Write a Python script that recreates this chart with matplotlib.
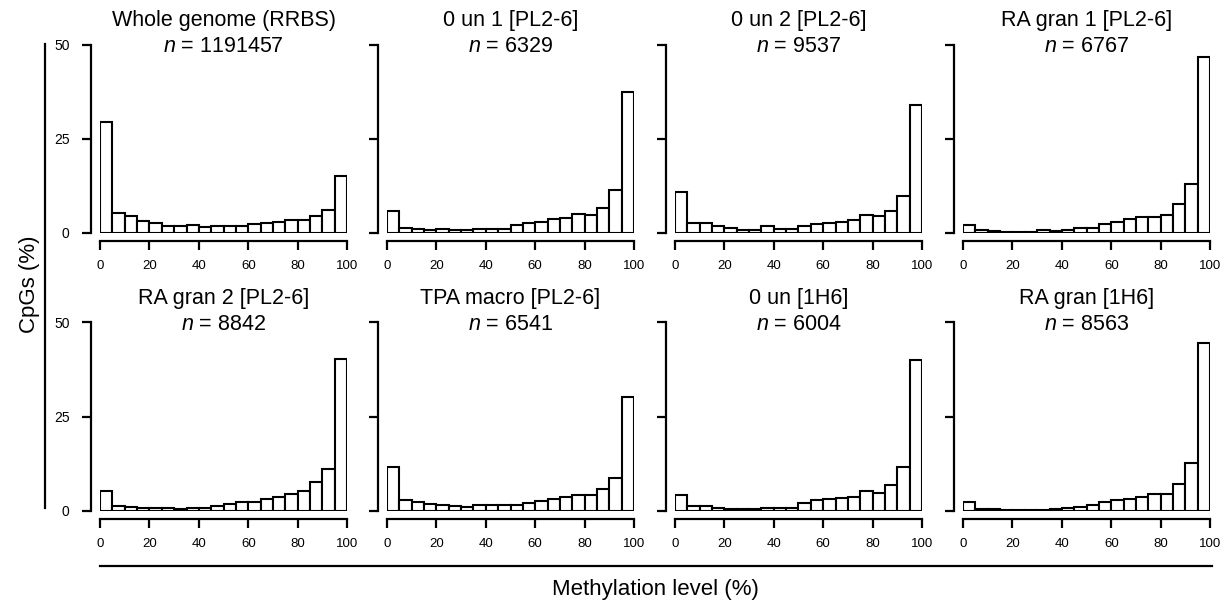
import numpy as np
import matplotlib
matplotlib.use("Agg")
import matplotlib.pyplot as plt
from matplotlib.lines import Line2D

plt.rcParams["font.family"] = ["Liberation Sans", "DejaVu Sans"]
plt.rcParams["mathtext.fontset"] = "custom"
plt.rcParams["mathtext.it"] = "Liberation Sans:italic"
plt.rcParams["mathtext.rm"] = "Liberation Sans"

# 20 bins of 5% methylation each
bin_edges = np.arange(0, 105, 5)

titles = ["Whole genome (RRBS)", "0 un 1 [PL2-6]", "0 un 2 [PL2-6]", "RA gran 1 [PL2-6]",
          "RA gran 2 [PL2-6]", "TPA macro [PL2-6]", "0 un [1H6]", "RA gran [1H6]"]
n_counts = ["1191457", "6329", "9537", "6767", "8842", "6541", "6004", "8563"]

whole_genome = [29.5, 5.3, 4.4, 3.3, 2.6, 1.8, 1.8, 2.1, 1.6, 1.8,
                1.8, 1.8, 2.4, 2.6, 3.0, 3.5, 3.5, 4.4, 6.2, 15.1]
un1_pl26 = [5.7, 1.4, 1.0, 0.7, 1.1, 0.7, 0.9, 1.0, 1.1, 1.1,
            2.0, 2.6, 3.0, 3.8, 4.0, 5.1, 4.7, 6.6, 11.3, 37.5]
un2_pl26 = [10.8, 2.7, 2.7, 1.9, 1.3, 0.9, 0.9, 1.8, 1.1, 1.1,
            1.8, 2.5, 2.7, 3.0, 3.5, 4.7, 4.4, 5.7, 9.8, 33.9]
gran1_pl26 = [2.2, 0.7, 0.5, 0.35, 0.35, 0.35, 0.7, 0.5, 0.9, 1.2,
              1.2, 2.3, 2.9, 3.7, 4.2, 4.2, 4.7, 7.6, 13.0, 46.8]
gran2_pl26 = [5.3, 1.2, 0.9, 0.6, 0.6, 0.6, 0.4, 0.7, 0.7, 1.1,
              1.7, 2.2, 2.4, 3.1, 3.7, 4.3, 5.1, 7.6, 11.1, 40.2]
tpa_macro_pl26 = [11.7, 2.7, 2.3, 1.8, 1.6, 1.1, 0.9, 1.4, 1.5, 1.6,
                  1.6, 2.1, 2.5, 3.2, 3.5, 4.2, 4.2, 5.8, 8.8, 30.1]
un_1h6 = [4.2, 1.2, 1.1, 0.7, 0.4, 0.5, 0.35, 0.7, 0.7, 0.7,
          2.0, 2.7, 3.0, 3.3, 3.5, 5.2, 4.8, 6.7, 11.6, 40.0]
gran_1h6 = [2.2, 0.5, 0.35, 0.2, 0.2, 0.2, 0.2, 0.35, 0.6, 0.9,
            1.5, 2.4, 2.7, 3.0, 3.5, 4.3, 4.4, 7.1, 12.7, 44.5]

panels = [whole_genome, un1_pl26, un2_pl26, gran1_pl26,
          gran2_pl26, tpa_macro_pl26, un_1h6, gran_1h6]

fig = plt.figure(figsize=(12.29, 6.05), dpi=100)

lefts = [0.0814, 0.3149, 0.5492, 0.7836]
bottoms = [0.615, 0.156]
w, h = 0.201, 0.311

for i, vals in enumerate(panels):
    row, col = divmod(i, 4)
    ax = fig.add_axes([lefts[col], bottoms[row], w, h])
    ax.bar(bin_edges[:-1], vals, width=5, align="edge",
           facecolor="white", edgecolor="black", linewidth=1.5)
    ax.set_xlim(0, 100)
    ax.set_ylim(0, 50)
    for s in ["top", "right"]:
        ax.spines[s].set_visible(False)
    ax.spines["left"].set_position(("outward", 6.5))
    ax.spines["bottom"].set_position(("outward", 6))
    ax.spines["left"].set_bounds(0, 50)
    ax.spines["bottom"].set_bounds(0, 100)
    for s in ["left", "bottom"]:
        ax.spines[s].set_linewidth(1.6)
    ax.set_yticks([0, 25, 50])
    ax.set_xticks([0, 20, 40, 60, 80, 100])
    ax.tick_params(length=6.5, width=1.6, labelsize=9.5, pad=7)
    ax.tick_params(axis="y", labelsize=10, pad=9)
    if col != 0:
        ax.set_yticklabels([])
    ax.text(0.5, 0.935, titles[i] + "\n" + r"$n$ = " + n_counts[i],
            transform=ax.transAxes, ha="center", va="bottom",
            fontsize=15.5, linespacing=1.3)

fig.add_artist(Line2D([0.0366, 0.0366], [0.927, 0.160], color="black", linewidth=1.6))
fig.add_artist(Line2D([0.0814, 0.986], [0.0645, 0.0645], color="black", linewidth=1.6))
fig.text(0.0244, 0.53, "CpGs (%)", rotation=90, ha="center", va="center", fontsize=16)
fig.text(0.533, 0.025, "Methylation level (%)", ha="center", va="center", fontsize=16)

fig.savefig("out.png", dpi=100)
